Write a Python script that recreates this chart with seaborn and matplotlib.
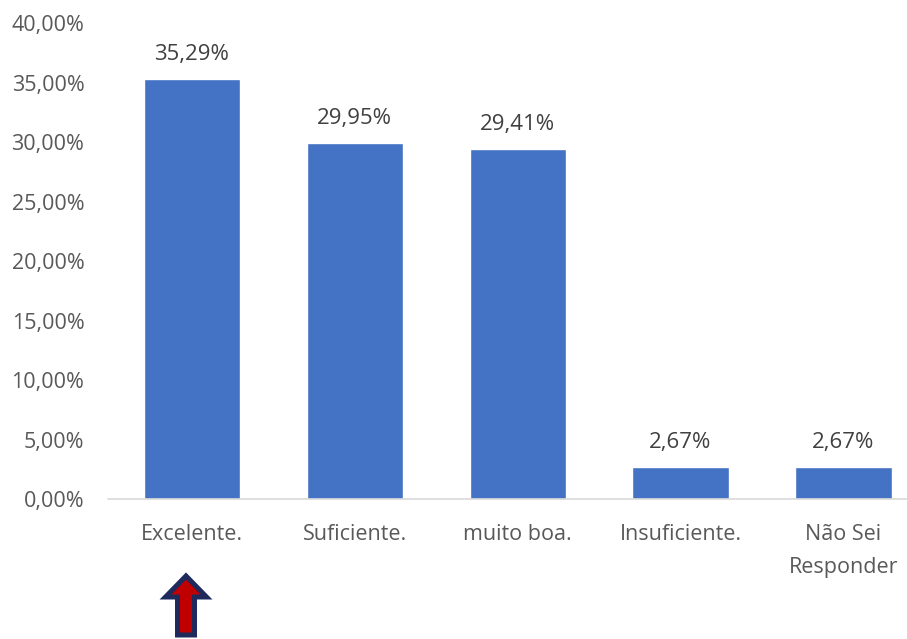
import matplotlib
matplotlib.use("Agg")
import matplotlib.pyplot as plt
import matplotlib.patches as mpatches
from matplotlib.ticker import FuncFormatter
import seaborn as sns
import pandas as pd

# data
categories = ["Excelente.", "Suficiente.", "muito boa.", "Insuficiente.", "Não Sei\nResponder"]
values = [35.29, 29.95, 29.41, 2.67, 2.67]
value_labels = ["35,29%", "29,95%", "29,41%", "2,67%", "2,67%"]

sns.set_style("white")
plt.rcParams["font.family"] = ["Open Sans", "DejaVu Sans"]

df = pd.DataFrame({"cat": categories, "val": values})

fig = plt.figure(figsize=(9.07, 6.39), dpi=100)
ax = fig.add_axes([0.119, 0.219, 0.881, 0.745])

sns.barplot(data=df, x="cat", y="val", color="#4472C4", saturation=1,
            width=0.59, ax=ax)

# value labels above bars
for bar, lab in zip(ax.patches, value_labels):
    ax.annotate(lab, (bar.get_x() + bar.get_width() / 2, bar.get_height()),
                xytext=(0, 10), textcoords="offset points",
                ha="center", va="bottom", fontsize=16, color="#404040")

ax.set_ylim(0, 40)
ax.set_xlim(-0.515, 4.39)
ax.set_yticks(range(0, 41, 5))
ax.yaxis.set_major_formatter(FuncFormatter(lambda v, p: f"{v:.2f}%".replace(".", ",")))
ax.tick_params(axis="both", length=0, labelsize=15.5, labelcolor="#595959")
ax.tick_params(axis="y", pad=17)
ax.tick_params(axis="x", pad=18)
for t in ax.get_xticklabels():
    t.set_linespacing(1.75)
ax.set_xlabel("")
ax.set_ylabel("")

for s in ["top", "right", "left"]:
    ax.spines[s].set_visible(False)
ax.spines["bottom"].set_color("#D9D9D9")
ax.spines["bottom"].set_linewidth(1.2)

# red arrow under "Excelente."
arrow = mpatches.FancyArrow(186 / 907, 4 / 639, 0, 59 / 639,
                            width=17 / 907, head_width=41 / 907,
                            head_length=21 / 639, length_includes_head=True,
                            transform=fig.transFigure, facecolor="#C00000",
                            edgecolor="#1F2A5C", linewidth=3.6)
fig.patches.append(arrow)

fig.savefig("out.png", dpi=100)
